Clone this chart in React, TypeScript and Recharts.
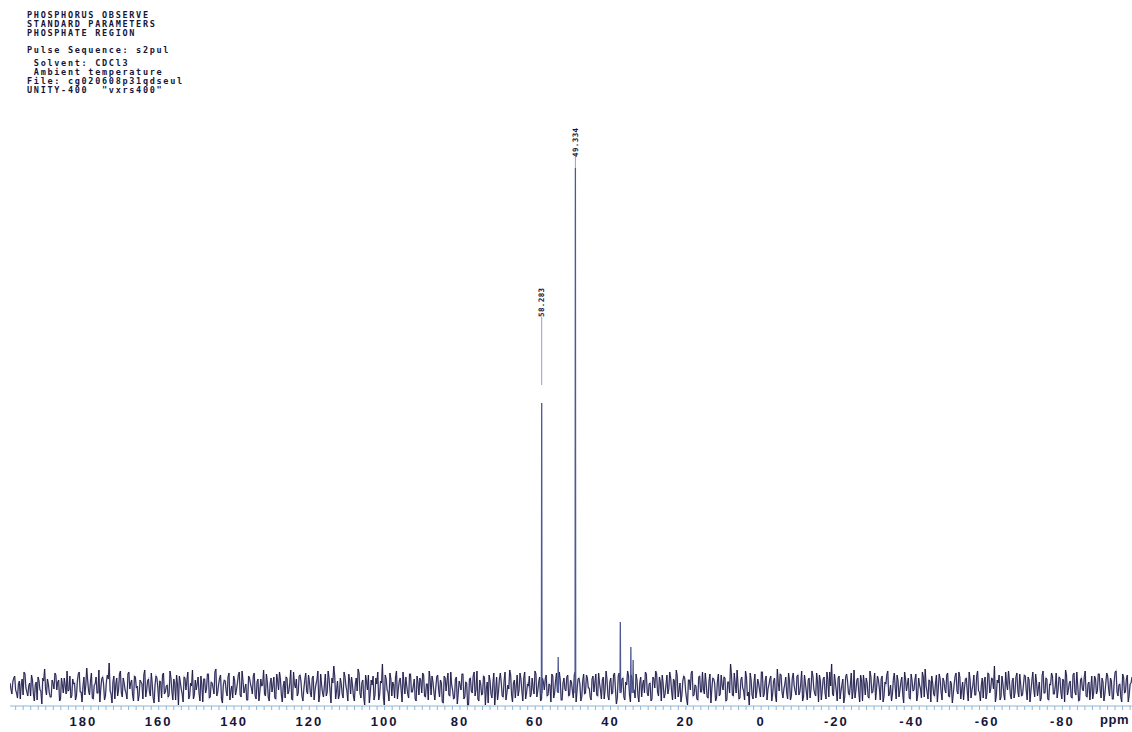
import React from 'react';
import {
  ComposedChart,
  Line,
  XAxis,
  YAxis,
  ReferenceLine,
  ReferenceDot,
} from 'recharts';

// 31P spectrum, ppm window of the acquisition
const PPM_MAX = 199.5;
const PPM_MIN = -98.5;

// Header block printed by the spectrometer
const headerLines = [
  'PHOSPHORUS OBSERVE',
  'STANDARD PARAMETERS',
  'PHOSPHATE REGION',
  'Pulse Sequence: s2pul',
  ' Solvent: CDCl3',
  ' Ambient temperature',
  'File: cg020608p31qdseul',
  'UNITY-400  "vxrs400"',
];
const headerCenters = [15, 24, 33, 50, 63, 72, 81, 90];

// Labelled axis positions (ppm)
const majorTicks = [180, 160, 140, 120, 100, 80, 60, 40, 20, 0, -20, -40, -60, -80];
const minorTickStep = 2;

// Baseline noise, even-numbered points (PPM_MAX down to PPM_MIN)
const noiseEven = [
  4, -7, 9, -3, -11, 6, 2, -8, 13, -5, 1, -9, 7, -14, 5, 10, -3, -17, 6, -2,
  8, -6, -10, 4, 14, -3, 7, -12, 2, 9, -7, -4, 11, -9, 3, -13, 6, 15, -5, 1,
  -8, 19, -4, 6, -11, 2, 10, -6, -15, 8, 3, -9, 12, 24, -7, 5, -12, 9, -3, 16,
  -10, 4, -6, 13, -2, 7, -14, 10, 1, -8, 5, -12, 17, -4, 8, -9, 3, -16, 11, -1,
  6, -11, 14, -5, 2, -8, 9, -13, 4, 12, -18, 5, -7, 10, -3, 15, -9, 1, -12, 7,
  3, -6, 11, -15, 8, -2, 13, -10, 4, -7, 18, -5, 9, -12, 2, 6, -9, 14, -4, -11,
  7, -3, 12, -8, 16, -6, 3, -13, 9, -1, 11, -9, 5, -14, 8, 2, -7, 13, -10, 4,
  -5, 10, -12, 6, 15, -8, 1, -11, 9, -4, 17, -13, 3, 8, -6, 12, -9, -2, 14, -7,
  5, -10, 11, -3, 7, -15, 13, -6, 2, -9, 16, -4, 9, 21, -12, 6, -8, 3, -11, 10,
  -4, 13, -7, 2, -14, 9, 18, -6, 4, -10, 12, -3, -16, 7, 11, -8, 3, -13, 6, 23,
  -18, 8, -5, 14, -9, 2, 10, -12, 6, -3, 15, -7, 1, -11, 13, -5, 8, -14, 4, 9,
  -6, 12, -10, 3, 16, -8, 5, -13, 10, -2, 7, -15, 11, -4, 14, -9, 2, -12, 8, -17,
  6, -3, 13, -10, 4, -18, 9, -6, 15, -2, -12, 7, -8, 11, -18, 5, 12, -7, 3, -18,
  10, -5, 14, -9, 6, -13, 2, 17, -8, 4, -11, 12, -3, 8, -14, 15, -6, 1, -10, 9,
  -7, 13, -4, 10, -12, 5, 8, -9, 3, -15, 11, -6, 14, -2, 7, -13, 9, -4, 12, -8,
  5, -11, 15, -3, 9, -14, 6, -7, 12, -1, -10, 8, -5, 13, -9, 4, -12, 10, -2, 7,
  -13, 9, -6, 14, -17, 11, -3, 8, -10, 5, 16, -8, 12, -4, -11, 7, -15, 10, 2, -6,
  13, -9, 4, -12, 8, 16, -5, 10, -14, 3, -7, 12, -2, 9, -13, 6, 17, -10, 4, -8,
  11, -4, -18, 7, 14, -9, 2, -12, 10, -5, 15, -7, 3, -11, 13, -2, 8, -14, 6, -9,
  12, -3, 9, -13, 5, 23, -8, 14, -6, 2, -11, 10, -4, 16, -9, -18, 7, -12, 13, -5,
  4, -10, 15, -7, 11, -2, 8, -14, 6, -9, 18, -4, 12, -11, 3, -6, 14, -13, 9, 1,
  -8, 12, -5, 16, -10, 4, -13, 9, -2, 11, -7, 14, -15, 6, -3, 10, -12, 7, 15, 23,
  -9, 5, -14, 11, -4, 8, -10, 13, -6, 2, -12, 17, -3, 9, -15, 6, 12, -8, 4, -11,
  10, -5, 14, -2, 7, -13, 11, -9, 3, 16, -6, -14, 8, -1, 12, -10, 5, -7, 15, -4,
  9, -12, 6, -3, 13, -8, 2, -11, 10, 18, -5, 7, -15, 4, -9, 12, -2, 8, -13, 6,
  -6, 14, -10, 3, -7, 11, -4, 15, -12, 5, -1, 9, -14, 7, -3, 12, -8, 16, -5, 2,
  -11, 10, -6, 13, -2, 8, 21, -9, 4, -13, 11, -7, 15, -3, 6, -12, 9, -5, 14, -10,
  3, -8, 12, -4, 10, -15, 6, -2, 13, -9, 5, -11, 16, -6, 8, -13, 2, 11, -7, 14,
  -3, 9, -12, 6, 17, -8, 4, -10, 12, -5, 15, -14, 7, -2, 10, -9, 3, -13, 11, -6,
  8, -4, 13, -11, 5, -7, 14, -2, 9, -12, 6, 16, -9, 3, -15, 10, -5, 12, -8, 4,
];

// Baseline noise, odd-numbered points
const noiseOdd = [
  -2, 5, 11, -6, 3, -12, 8, 15, -1, -9, 4, 12, -7, 2, -13, 6, -4, 9, 18, -8,
  3, -10, 7, -2, 12, 5, -14, 9, -6, 1, 16, -3, -11, 8, 4, -9, 13, -5, -15, 10,
  2, 7, -8, 14, -12, 3, -6, 17, -2, 10, -13, 5, 8, -4, -16, 11, 2, -9, 13, -6,
  9, -3, -12, 15, 4, -8, 11, -1, -14, 7, 3, 12, -10, 6, -5, 14, -11, 2, 9, -15,
  5, 12, -7, 1, -10, 16, -4, 8, -13, 3, 11, -2, -15, 9, 6, -12, 4, 17, -8, -3,
  10, -14, 2, 8, -6, 13, -11, 5, -1, 15, -9, 3, 12, -16, 7, -4, 10, -13, 1, 11,
  -8, 4, 15, -10, 6, -2, -13, 11, 3, -7, 14, -12, 8, -5, 1, 17, -9, 5, -14, 9,
  2, -11, 13, -3, 8, -15, 6, 10, -7, 4, -12, 15, -1, -9, 11, 5, -14, 7, -4, 12,
  -6, 9, -13, 3, 16, -8, 2, -10, 13, -5, 8, -16, 4, 11, -3, -12, 9, -7, 15, 1,
  -14, 6, 10, -9, 3, -4, 14, -11, 7, -18, 5, 12, -6, 2, -13, 9, 15, -8, 4, -10,
  12, -3, -14, 8, 5, -11, 16, -2, 9, -15, 3, 10, -7, 13, -5, 1, -12, 11, -8, 6,
  14, -9, 3, -13, 7, 11, -5, -1, 12, -10, 4, -16, 9, 6, -8, 15, -3, -11, 10, -6,
  2, 13, -12, 5, -18, 8, -4, 11, -9, 16, -14, 3, -7, 10, -2, -16, 6, -11, 14, -5,
  -13, 8, 4, -10, 15, -6, -2, 12, -15, 7, 1, -9, 14, -4, 9, -12, 3, 11, -7, -1,
  16, -10, 5, -14, 9, -3, 12, -8, 2, 13, -11, 6, -5, 15, -13, 4, -2, 10, -9, 7,
  -4, 12, -15, 8, 3, -10, 13, -6, 9, -1, -13, 11, 4, -8, 14, -3, 7, -12, 16, -9,
  5, -7, 12, -2, -11, 14, -5, 9, -13, 2, 11, -15, 6, -3, 13, -8, 4, -10, 7, 15,
  -6, 3, -14, 10, -1, 13, -9, 5, 12, -11, 2, -7, 15, -4, 8, -12, 11, -3, -15, 6,
  9, -12, 7, -3, 16, -8, 1, -13, 11, -5, -2, 14, -10, 6, -16, 9, 4, -11, 13, -7,
  2, 10, -14, 5, -6, 12, -9, 3, 17, -12, 7, -1, -13, 10, -5, 14, -8, 4, -11, 8,
  -3, 15, -10, 6, -13, 2, 11, -7, 9, -15, 4, 13, -5, -2, 10, -12, 6, -9, 14, -4,
  11, -8, 3, -14, 12, -5, 7, -11, 16, -2, -9, 5, 12, -13, 8, -6, 15, -10, 1, -7,
  13, -4, 9, -12, 2, -16, 10, 6, -8, 14, -3, -11, 7, -5, 12, -14, 3, 9, -10, 16,
  -6, 4, -13, 11, -1, 8, -15, 5, 12, -9, 2, -7, 14, -12, 6, -3, 10, -16, 8, 3,
  -11, 13, -4, 7, -14, 9, -2, 15, -10, 1, -12, 6, 11, -7, 4, -15, 13, -5, 9, -2,
  12, -9, 6, -16, 3, 14, -7, 10, -3, -13, 8, -5, 15, -11, 2, -8, 11, -4, -14, 9,
  5, -12, 14, -6, 9, -2, -15, 7, 12, -10, 4, -13, 3, 16, -8, 6, -11, 10, -4, 13,
  -9, 2, 11, -13, 7, -4, 15, -10, 5, -1, -14, 12, -6, 9, -12, 3, 14, -7, 1, -11,
  10, -5, 8, -15, 12, -3, 6, -11, 14, -8, 2, -13, 9, -4, 16, -10, 5, -2, -12, 11,
  -7, 13, -3, 9, -14, 4, 11, -9, 6, -12, 15, -5, 2, -10, 13, -6, 8, -15, 3, 10,
];

// Resonances: chemical shift (ppm) and height
const peakPpm = [58.283, 49.334, 53.9, 37.4, 34.6, 34.0];
const peakHeight = [284, 519, 30, 65, 40, 27];

// Peak picking labels: shift, level of label foot, level where the leader stops
const labelPpm = [58.283, 49.334];
const labelFoot = [370, 530];
const leaderEnd = [302, 519];

const baseline = noiseEven.flatMap((v, i) => [v, noiseOdd[i]]);
const spectrum = baseline.map((v, k) => ({
  ppm: PPM_MAX - (k * (PPM_MAX - PPM_MIN)) / (baseline.length - 1),
  v,
}));

const peakTrace = peakPpm.flatMap((p, i) => [
  { ppm: p + 0.08, v: -6 },
  { ppm: p, v: peakHeight[i] },
  { ppm: p - 0.08, v: -6 },
  { ppm: p - 0.09, v: null },
]);

const tickValues: number[] = [];
for (let t = 198; t >= -98; t -= minorTickStep) tickValues.push(t);

const AXIS_BLUE = '#8db6d6';
const INK = '#15163a';

const PeakLabel = (props: any) => {
  const { cx, cy, text } = props;
  return (
    <text
      x={cx}
      y={cy}
      dy="0.36em"
      transform={`rotate(-90 ${cx} ${cy})`}
      textAnchor="start"
      fontFamily="'DejaVu Sans Mono', monospace"
      fontWeight={700}
      fontSize={7.5}
      letterSpacing={0.4}
      fill={INK}
    >
      {text}
    </text>
  );
};

export default function App() {
  return (
    <div
      style={{
        position: 'absolute',
        left: 0,
        top: 0,
        width: 1132,
        height: 732,
        background: '#ffffff',
        overflow: 'hidden',
      }}
    >
      {headerLines.map((line, i) => (
        <div
          key={i}
          style={{
            position: 'absolute',
            left: 27,
            top: headerCenters[i] - 4.25,
            height: 8.5,
            lineHeight: '8.5px',
            fontFamily: "'DejaVu Sans Mono', monospace",
            fontWeight: 700,
            fontSize: 8.5,
            letterSpacing: 1.7,
            color: INK,
            whiteSpace: 'pre',
          }}
        >
          {line}
        </div>
      ))}

      <ComposedChart
        width={1132}
        height={732}
        margin={{ top: 34, right: 0, bottom: 0, left: 10 }}
      >
        <XAxis
          type="number"
          dataKey="ppm"
          domain={[PPM_MIN, PPM_MAX]}
          allowDataOverflow
          reversed
          ticks={tickValues}
          interval={0}
          tickFormatter={(v: number) => (majorTicks.includes(v) ? String(v) : '')}
          height={26}
          axisLine={{ stroke: AXIS_BLUE }}
          tickLine={{ stroke: AXIS_BLUE }}
          tickSize={4}
          tickMargin={7}
          tick={{
            fill: INK,
            fontSize: 13,
            fontWeight: 700,
            fontFamily: "'Liberation Sans', Arial, sans-serif",
            letterSpacing: 2,
          }}
        />
        <YAxis type="number" hide domain={[-19, 653]} allowDataOverflow />

        <Line
          data={spectrum}
          dataKey="v"
          stroke="#6b62b5"
          strokeOpacity={0.45}
          strokeWidth={1.6}
          dot={false}
          isAnimationActive={false}
        />
        <Line
          data={spectrum}
          dataKey="v"
          stroke="#1b1a3c"
          strokeWidth={0.9}
          dot={false}
          isAnimationActive={false}
        />
        <Line
          data={peakTrace}
          dataKey="v"
          stroke="#4d5894"
          strokeWidth={1.3}
          dot={false}
          connectNulls={false}
          isAnimationActive={false}
        />

        {labelPpm.map((p, i) => (
          <ReferenceLine
            key={`lead-${i}`}
            segment={[
              { x: p, y: leaderEnd[i] },
              { x: p, y: labelFoot[i] },
            ]}
            stroke="#8ea6c0"
            strokeWidth={1}
          />
        ))}
        {labelPpm.map((p, i) => (
          <ReferenceDot
            key={`lab-${i}`}
            x={p}
            y={labelFoot[i]}
            r={0}
            shape={(props: any) => <PeakLabel {...props} text={p.toFixed(3)} />}
          />
        ))}
      </ComposedChart>

      <div
        style={{
          position: 'absolute',
          left: 1100,
          top: 713,
          lineHeight: '13px',
          fontFamily: "'Liberation Sans', Arial, sans-serif",
          fontWeight: 700,
          fontSize: 13,
          letterSpacing: 0.5,
          color: INK,
        }}
      >
        ppm
      </div>
    </div>
  );
}
